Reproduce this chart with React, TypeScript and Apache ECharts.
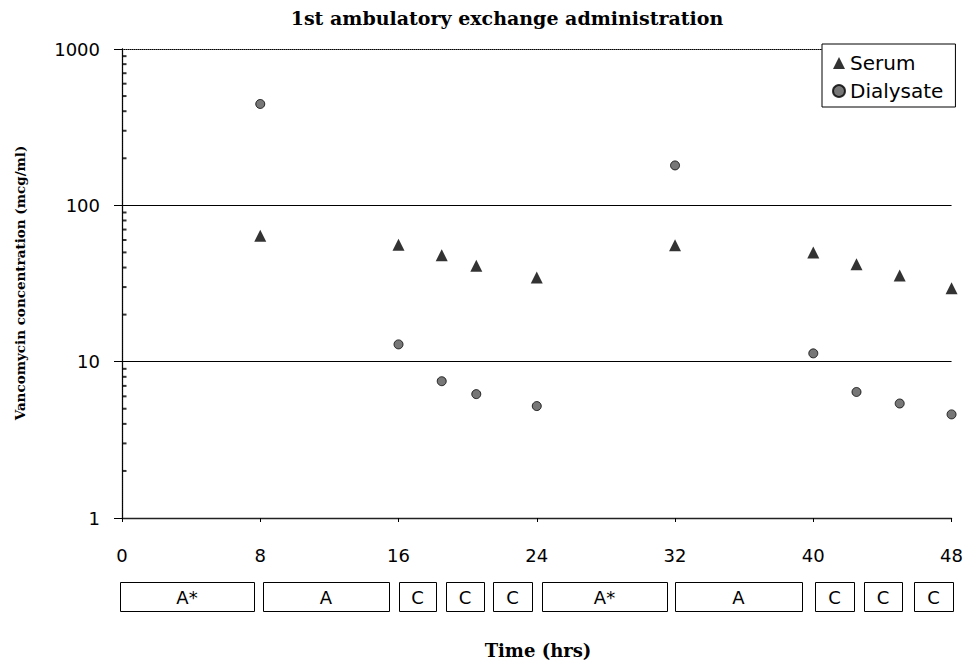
import React, { useEffect, useRef } from "react";
import * as echarts from "echarts";

const hours = [8, 16, 18.5, 20.5, 24, 32, 40, 42.5, 45, 48];
const serum = [64, 56, 48, 41, 34.6, 55.5, 50, 42, 35.6, 29.5];
const dialysate = [445, 12.9, 7.5, 6.2, 5.2, 180, 11.3, 6.4, 5.4, 4.6];
const minorTickValues = [2, 3, 4, 5, 6, 7, 8, 9, 20, 30, 40, 50, 60, 70, 80, 90, 200, 300, 400, 500, 600, 700, 800, 900];
const boxLabels = ["A*", "A", "C", "C", "C", "A*", "A", "C", "C", "C"];
const titleText = "1st ambulatory exchange administration";
const xTitle = "Time (hrs)";
const yTitle = "Vancomycin concentration (mcg/ml)";

// box layout (pixels): left, right
const boxPx: [number, number][] = [
  [120, 254], [263, 389], [399, 436], [446, 484], [493, 532],
  [542, 667], [675, 802], [815, 854], [864, 902], [914, 953],
];

const SANS = "'DejaVu Sans', sans-serif";
const SERIF = "'DejaVu Serif', serif";

export default function App() {
  const ref = useRef<HTMLDivElement>(null);
  useEffect(() => {
    if (!ref.current) return;
    const chart = echarts.init(ref.current, null, { renderer: "svg" });
    const boxes: any[] = [];
    boxLabels.forEach((lab, i) => {
      const [l, r] = boxPx[i];
      boxes.push({
        type: "rect",
        shape: { x: l + 0.5, y: 582.5, width: r - l, height: 29 },
        style: { fill: "#fff", stroke: "#000", lineWidth: 1 },
      });
      boxes.push({
        type: "text",
        x: (l + r) / 2,
        y: 597,
        style: { text: lab, font: `18px ${SANS}`, fill: "#000", textAlign: "center", textVerticalAlign: "middle" },
      });
    });
    chart.setOption({
      animation: false,
      backgroundColor: "#fff",
      grid: { left: 122, right: 13, top: 49, bottom: 144 },
      legend: {
        orient: "vertical",
        left: 822,
        top: 44,
        padding: [9, 12, 6, 10],
        backgroundColor: "#fff",
        borderColor: "#000",
        borderWidth: 1,
        borderRadius: 0,
        itemWidth: 12,
        itemHeight: 12,
        itemGap: 8,
        textStyle: { fontFamily: SANS, fontSize: 20, color: "#000", lineHeight: 20 },
        data: [
          { name: "Serum", icon: "triangle" },
          { name: "Dialysate", icon: "circle" },
        ],
      },
      xAxis: [
        {
          type: "value",
          min: 0,
          max: 48,
          interval: 8,
          axisLine: { lineStyle: { color: "#222", width: 1.3 } },
          axisTick: { show: true, length: 4, lineStyle: { color: "#000" } },
          axisLabel: { fontFamily: SANS, fontSize: 18, color: "#000", margin: 28 },
          splitLine: { show: false },
        },
        {
          type: "value",
          position: "top",
          min: 0,
          max: 48,
          axisLine: { show: true, lineStyle: { color: "#000", width: 1, type: "dotted" } },
          axisTick: { show: false },
          axisLabel: { show: false },
          splitLine: { show: false },
        },
      ],
      yAxis: [
        {
          type: "log",
          logBase: 10,
          min: 1,
          max: 1000,
          axisLine: { show: true, lineStyle: { color: "#222", width: 1.3 } },
          axisTick: { show: true, length: 8, lineStyle: { color: "#000" } },
          axisLabel: {
            fontFamily: SANS,
            fontSize: 18,
            color: "#000",
            margin: 22,
            formatter: (v: number) => String(Math.round(v)),
          },
          splitLine: { show: true, showMaxLine: false, lineStyle: { color: "#000", width: 1 } },
        },
        {
          type: "log",
          logBase: 10,
          position: "right",
          min: 1,
          max: 1000,
          axisLine: { show: true, lineStyle: { color: "#000", width: 1, type: "dotted" } },
          axisTick: { show: false },
          axisLabel: { show: false },
          splitLine: { show: false },
        },
      ],
      series: [
        {
          name: "minor",
          type: "scatter",
          silent: true,
          symbol: "rect",
          symbolSize: [4, 2],
          symbolOffset: [2.5, 0],
          itemStyle: { color: "#000" },
          data: minorTickValues.map((v) => [0, v]),
          z: 1,
        },
        {
          name: "Serum",
          type: "scatter",
          symbol: "triangle",
          symbolSize: 12,
          itemStyle: { color: "#000" },
          data: hours.map((h, i) => [h, serum[i]]),
          clip: false,
          z: 3,
        },
        {
          name: "Dialysate",
          type: "scatter",
          symbol: "circle",
          symbolSize: 9,
          itemStyle: { color: "#555", borderColor: "#000", borderWidth: 1 },
          data: hours.map((h, i) => [h, dialysate[i]]),
          clip: false,
          z: 3,
        },
      ],
      graphic: [
        {
          type: "text",
          x: 507,
          y: 18,
          style: { text: titleText, font: `bold 19px ${SERIF}`, fill: "#000", textAlign: "center", textVerticalAlign: "middle" },
        },
        {
          type: "text",
          x: 538,
          y: 650,
          style: { text: xTitle, font: `bold 18px ${SERIF}`, fill: "#000", textAlign: "center", textVerticalAlign: "middle" },
        },
        {
          type: "text",
          x: 20,
          y: 283,
          rotation: Math.PI / 2,
          style: { text: yTitle, font: `bold 13.5px ${SERIF}`, fill: "#000", textAlign: "center", textVerticalAlign: "middle" },
        },
        ...boxes,
      ],
    });
    return () => chart.dispose();
  }, []);
  return <div ref={ref} style={{ position: "fixed", left: 0, top: 0, width: 966, height: 662 }} />;
}
